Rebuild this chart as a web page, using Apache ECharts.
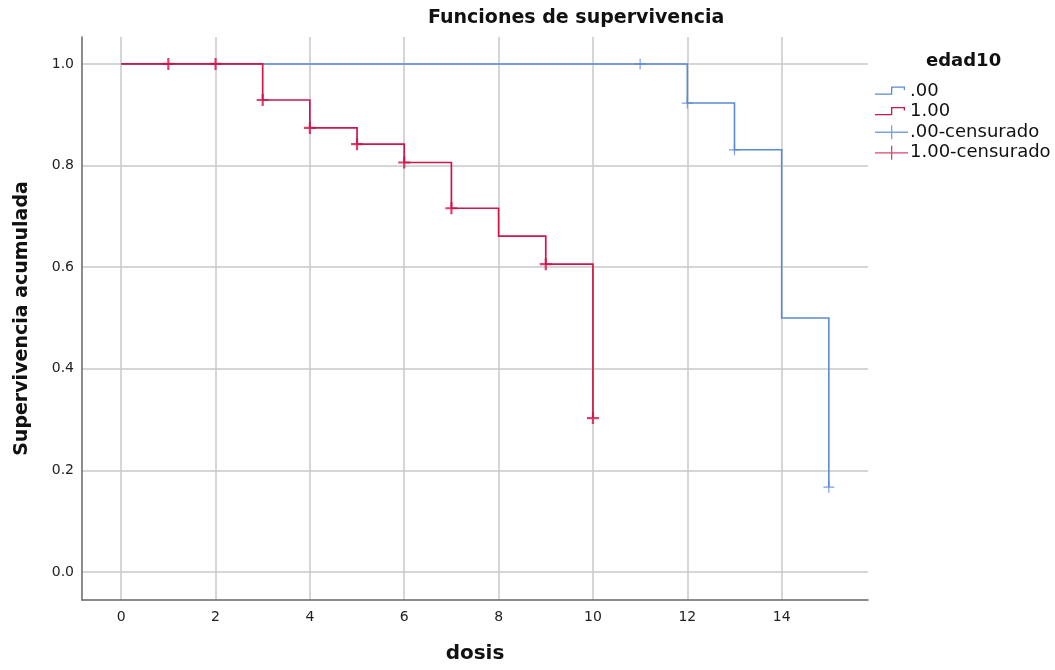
<!DOCTYPE html>
<html lang="es">
<head>
<meta charset="UTF-8">
<title>Funciones de supervivencia</title>
<script src="https://cdn.jsdelivr.net/npm/echarts@6/dist/echarts.min.js"></script>
<style>html,body{margin:0;padding:0;background:#fff}</style>
</head>
<body>
<div id="chart" style="width:1055px;height:670px;"></div>
<script>
// edad10 = .00
var timesA = [0, 12, 13, 14, 15];
var survA = [1, 0.923, 0.831, 0.5, 0.167];
var censTimesA = [11, 12, 13, 15];
var censSurvA = [1, 0.923, 0.831, 0.167];
// edad10 = 1.00
var timesB = [0, 3, 4, 5, 6, 7, 8, 9, 10];
var survB = [1, 0.929, 0.874, 0.842, 0.806, 0.716, 0.661, 0.606, 0.303];
var censTimesB = [1, 2, 3, 4, 5, 6, 7, 9, 10];
var censSurvB = [1, 1, 0.929, 0.874, 0.842, 0.806, 0.716, 0.606, 0.303];

var names = ['.00', '1.00', '.00-censurado', '1.00-censurado'];

var BLUE = '#5a8ad6';
var RED = '#d0154b';
var FONT = 'DejaVu Sans';

function pairs(xs, ys) {
    return xs.map(function (x, i) { return [x, ys[i]]; });
}
// Kaplan-Meier: horizontal to the next time, then drop
function steps(xs, ys) {
    var c = [[xs[0], ys[0]]];
    for (var i = 1; i < xs.length; i++) {
        c.push([xs[i], ys[i - 1]]);
        c.push([xs[i], ys[i]]);
    }
    return c;
}

var stepIcon = 'path://M0,0M33,14M0,9.4h17v1.3h-17zM16,2.4h1.3v8.3h-1.3zM16,2.4h14v1.3h-14zM28.7,2.4h1.3v3.6h-1.3z';
var crossIcon = 'path://M0,6.4h33v1.3h-33zM16,0h1.3v14h-1.3z';
var crossThin = 'path://M0,5.35h12v1.3h-12zM5.35,0h1.3v12h-1.3z';
var crossBold = 'path://M0,4.9h12v2.2h-12zM4.9,0h2.2v12h-2.2z';

var option = {
    animation: false,
    backgroundColor: '#ffffff',
    title: [{
        text: 'Funciones de supervivencia',
        left: 423,
        top: 4,
        textStyle: {fontFamily: FONT, fontSize: 19, fontWeight: 'bold', color: '#111'}
    }, {
        text: 'edad10',
        left: 921,
        top: 47,
        textStyle: {fontFamily: FONT, fontSize: 18, fontWeight: 'bold', color: '#111'}
    }],
    legend: {
        orient: 'vertical',
        left: 870,
        top: 77,
        itemWidth: 33,
        itemHeight: 14,
        itemGap: 2.6,
        selectedMode: false,
        itemStyle: {borderWidth: 0},
        textStyle: {fontFamily: FONT, fontSize: 18, color: '#111', padding: [0, 0, 0, -3]},
        data: [
            {name: names[0], icon: stepIcon, itemStyle: {color: BLUE}},
            {name: names[1], icon: stepIcon, itemStyle: {color: RED}},
            {name: names[2], icon: crossIcon, itemStyle: {color: BLUE}},
            {name: names[3], icon: crossIcon, itemStyle: {color: RED}}
        ]
    },
    grid: {left: 82, right: 187, top: 37, bottom: 70, outerBoundsMode: 'none', containLabel: false},
    xAxis: {
        type: 'value',
        min: -0.83,
        max: 15.83,
        splitNumber: 8,
        minInterval: 2,
        maxInterval: 2,
        name: 'dosis',
        nameLocation: 'middle',
        nameGap: 44,
        nameTextStyle: {fontFamily: FONT, fontSize: 20, fontWeight: 'bold', color: '#111'},
        axisLine: {show: true, onZero: false, lineStyle: {color: '#666', width: 1.5}},
        axisTick: {show: false},
        axisLabel: {
            showMinLabel: false, showMaxLabel: false,
            margin: 10, fontFamily: FONT, fontSize: 14, color: '#222'
        },
        splitLine: {show: true, showMinLine: false, showMaxLine: false, lineStyle: {color: '#c8c8c8', width: 1.5}}
    },
    yAxis: {
        type: 'value',
        min: -0.055,
        max: 1.053,
        splitNumber: 5,
        minInterval: 0.2,
        maxInterval: 0.2,
        name: 'Supervivencia acumulada',
        nameLocation: 'middle',
        nameGap: 50,
        nameTextStyle: {fontFamily: FONT, fontSize: 19, fontWeight: 'bold', color: '#111'},
        axisLine: {show: true, onZero: false, lineStyle: {color: '#666', width: 1.5}},
        axisTick: {show: false},
        axisLabel: {
            showMinLabel: false, showMaxLabel: false,
            margin: 8, fontFamily: FONT, fontSize: 14, color: '#222',
            formatter: function (v) { return v.toFixed(1); }
        },
        splitLine: {show: true, showMinLine: false, showMaxLine: false, lineStyle: {color: '#c8c8c8', width: 1.5}}
    },
    series: [{
        name: names[0],
        type: 'lines',
        coordinateSystem: 'cartesian2d',
        polyline: true,
        color: BLUE,
        lineStyle: {color: BLUE, width: 1.6, opacity: 1},
        data: [{coords: steps(timesA, survA)}]
    }, {
        name: names[1],
        type: 'lines',
        coordinateSystem: 'cartesian2d',
        polyline: true,
        color: RED,
        lineStyle: {color: RED, width: 1.7, opacity: 1},
        data: [{coords: steps(timesB, survB)}]
    }, {
        name: names[2],
        type: 'scatter',
        symbol: crossThin,
        symbolSize: 11,
        color: BLUE,
        z: 3,
        itemStyle: {color: BLUE, borderWidth: 0},
        data: pairs(censTimesA, censSurvA)
    }, {
        name: names[3],
        type: 'scatter',
        symbol: crossBold,
        symbolSize: 12,
        color: RED,
        z: 3,
        itemStyle: {color: RED, borderWidth: 0},
        data: pairs(censTimesB, censSurvB)
    }]
};

var myChart = echarts.init(document.getElementById('chart'));
myChart.setOption(option);
</script>
</body>
</html>
